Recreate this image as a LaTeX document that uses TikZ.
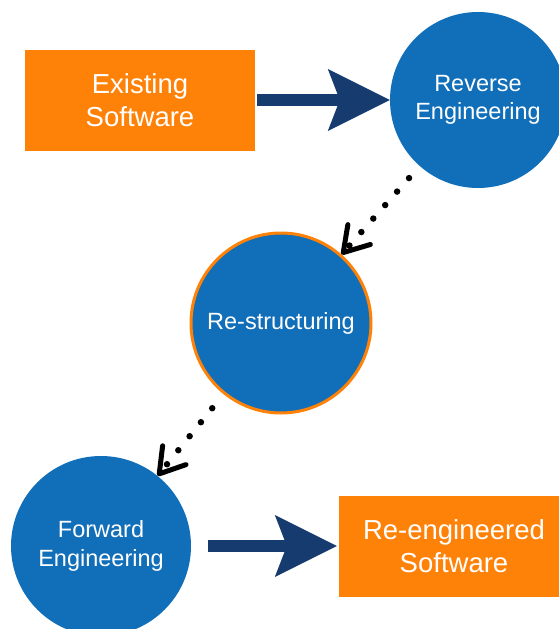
\documentclass[tikz,border=0pt]{standalone}
\usepackage{fontspec}
\setmainfont{Liberation Sans}
\usetikzlibrary{arrows.meta}
\definecolor{swOrange}{RGB}{255,130,8}
\definecolor{swBlue}{RGB}{17,110,184}
\definecolor{swNavy}{RGB}{22,59,110}

\begin{document}
\begin{tikzpicture}[x = 1pt, y = -1pt,
	box/.style = {fill = swOrange, text = white, minimum width = 230pt, minimum height = 101pt, inner sep = 0pt, align = center, font = \fontsize{27.5}{33}\selectfont},
	stage/.style = {circle, fill = swBlue, text = white, inner sep = 0pt, align = center, font = \fontsize{23.5}{28.5}\selectfont},
	bigarrow/.style = {swNavy, line width = 12pt, -{Stealth[length = 62pt, width = 62pt, inset = 12pt, line width = 0pt]}},
	dotarrow/.style = {black, line width = 6.5pt, line cap = round, dash pattern = on 0pt off 18pt, -{Straight Barb[round, length = 24pt, width = 30pt, line width = 5pt 0]}}]
							\clip (0, 0) rectangle (559, 629);
							\node [box] (existing) at (140, 100) {Existing\\Software};
							\node [stage, minimum size = 176pt] (reverse) at (478, 100) {Reverse\\Engineering};
							\node [stage, draw = swOrange, line width = 3pt, minimum size = 180pt] (restruct) at (281, 323) {Re-structuring};
							\node [stage, minimum size = 180pt] (forward) at (101, 546) {Forward\\Engineering};
							\node [box] (reeng) at (454, 546) {Re-engineered\\Software};
							\draw [bigarrow, shorten < = 2pt] (existing.east) -- (reverse.west);
							\draw [bigarrow, shorten < = 17pt, shorten > = 2pt] (forward.east) -- (reeng.west);
							\draw [dotarrow, shorten < = 16pt] (reverse) -- (restruct);
							\draw [dotarrow, shorten < = 18pt] (restruct) -- (forward);
						\end{tikzpicture}
\end{document}
